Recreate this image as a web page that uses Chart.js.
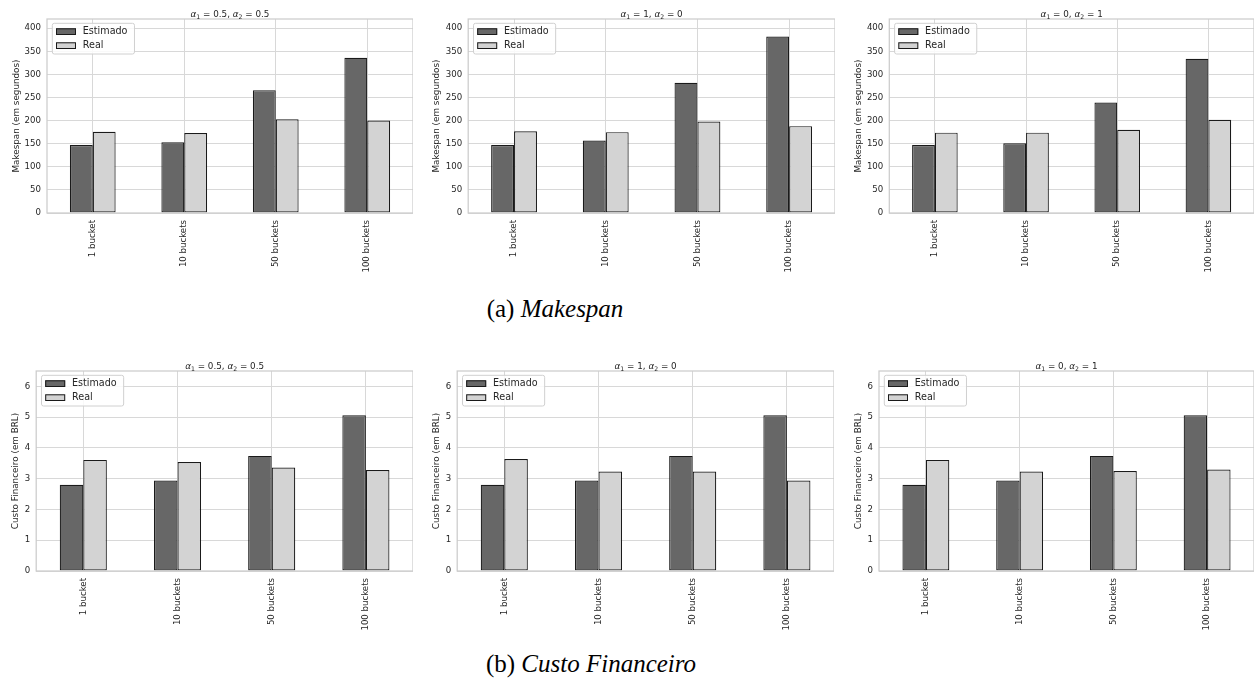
<!DOCTYPE html>
<html><head><meta charset="utf-8">
<script src="https://cdn.jsdelivr.net/npm/chart.js@4.4.0/dist/chart.umd.min.js"></script>
<style>
html,body{margin:0;padding:0;background:#fff;width:1255px;height:683px;overflow:hidden;position:relative;}
canvas{position:absolute;}
.cap{position:absolute;font-family:"Liberation Serif",serif;font-size:25px;line-height:25px;color:#000;white-space:nowrap;text-align:center;width:400px;}
.cap i{font-style:italic;}
</style></head><body>
<div class="cap" style="left:355px;top:296px;">(a) <i>Makespan</i></div>
<div class="cap" style="left:391px;top:651px;">(b) <i>Custo Financeiro</i></div>
<script>
// ---- data ----
const categories = ['1 bucket', '10 buckets', '50 buckets', '100 buckets'];
const seriesLabels = ['Estimado', 'Real'];
const alpha1Values = ['0.5', '1', '0'];
const alpha2Values = ['0.5', '0', '1'];

const makespanEst_05_05 = [147, 153, 266, 336];
const makespanReal_05_05 = [176, 173, 203, 200];
const makespanEst_1_0 = [147, 157, 282, 382];
const makespanReal_1_0 = [177, 175, 198, 188];
const makespanEst_0_1 = [147, 151, 239, 334];
const makespanReal_0_1 = [174, 174, 180, 202];

const custoEst_05_05 = [2.80, 2.94, 3.74, 5.06];
const custoReal_05_05 = [3.61, 3.54, 3.36, 3.28];
const custoEst_1_0 = [2.80, 2.94, 3.74, 5.06];
const custoReal_1_0 = [3.64, 3.23, 3.23, 2.94];
const custoEst_0_1 = [2.80, 2.94, 3.74, 5.06];
const custoReal_0_1 = [3.61, 3.23, 3.25, 3.30];

const makespanAxisMax = 420, makespanStep = 50;
const custoAxisMax = 6.5, custoStep = 1;
const makespanYLabel = 'Makespan (em segundos)';
const custoYLabel = 'Custo Financeiro (em BRL)';

// ---- style ----
const EST_COLOR = '#676767';
const REAL_COLOR = '#d3d3d3';
const EDGE = '#1a1a1a';
const GRID = '#d8d8d8';
const FRAME = '#cccccc';
const TXT = '#262626';
const FONT = '"DejaVu Sans", sans-serif';

const panels = [
  {est: makespanEst_05_05, real: makespanReal_05_05, ai: 0, yLabel: makespanYLabel, ymax: makespanAxisMax, step: makespanStep,
   L: 47, R: 413, T: 19, B: 213, cl: 0, ct: 0, ch: 290, yLabelX: 16.7},
  {est: makespanEst_1_0, real: makespanReal_1_0, ai: 1, yLabel: makespanYLabel, ymax: makespanAxisMax, step: makespanStep,
   L: 468.2, R: 834.9, T: 19, B: 213, cl: 421, ct: 0, ch: 290, yLabelX: 436.7},
  {est: makespanEst_0_1, real: makespanReal_0_1, ai: 2, yLabel: makespanYLabel, ymax: makespanAxisMax, step: makespanStep,
   L: 889.3, R: 1254, T: 19, B: 213, cl: 842, ct: 0, ch: 290, yLabelX: 859},
  {est: custoEst_05_05, real: custoReal_05_05, ai: 0, yLabel: custoYLabel, ymax: custoAxisMax, step: custoStep,
   L: 36.2, R: 413, T: 371, B: 571, cl: 0, ct: 350, ch: 295, yLabelX: 16},
  {est: custoEst_1_0, real: custoReal_1_0, ai: 1, yLabel: custoYLabel, ymax: custoAxisMax, step: custoStep,
   L: 457.2, R: 833.7, T: 371, B: 571, cl: 415, ct: 350, ch: 295, yLabelX: 437},
  {est: custoEst_0_1, real: custoReal_0_1, ai: 2, yLabel: custoYLabel, ymax: custoAxisMax, step: custoStep,
   L: 879, R: 1254, T: 371, B: 571, cl: 836, ct: 350, ch: 295, yLabelX: 859}
];

function drawPanelTitle(ctx, cx, cy, a1, a2) {
  const fs = 8.8;
  const reg = fs + 'px ' + FONT;
  const ital = 'italic ' + fs + 'px ' + FONT;
  const sub = (fs * 0.7) + 'px ' + FONT;
  const segs = [
    {t: 'α', f: ital, dy: 0}, {t: '1', f: sub, dy: fs * 0.22}, {t: ' = ' + a1 + ', ', f: reg, dy: 0},
    {t: 'α', f: ital, dy: 0}, {t: '2', f: sub, dy: fs * 0.22}, {t: ' = ' + a2, f: reg, dy: 0}
  ];
  let total = 0;
  segs.forEach(s => { ctx.font = s.f; s.w = ctx.measureText(s.t).width; total += s.w; });
  let x = cx - total / 2;
  const base = cy + fs * 0.36;
  ctx.fillStyle = '#262626';
  ctx.textAlign = 'left';
  ctx.textBaseline = 'alphabetic';
  segs.forEach(s => { ctx.font = s.f; ctx.fillText(s.t, x, base + s.dy); x += s.w; });
}

const panelDecor = {
  id: 'panelDecor',
  afterDatasetsDraw(chart, args, opts) {
    const ctx = chart.ctx;
    const ca = chart.chartArea;
    ctx.save();
    // frame
    ctx.strokeStyle = FRAME;
    ctx.lineWidth = 1.25;
    ctx.strokeRect(ca.left, ca.top, ca.right - ca.left, ca.bottom - ca.top);
    // title
    drawPanelTitle(ctx, (ca.left + ca.right) / 2, ca.top - 5, alpha1Values[opts.ai], alpha2Values[opts.ai]);
    // legend inside axes
    const lx = ca.left + 5.3, ly = ca.top + 4.3;
    ctx.font = '9.6px ' + FONT;
    const dsets = chart.data.datasets;
    const tw = Math.max(...dsets.map(d => ctx.measureText(d.label).width));
    const w = 30.5 + tw + 7, h = 30.7, r = 2;
    ctx.beginPath();
    ctx.moveTo(lx + r, ly);
    ctx.lineTo(lx + w - r, ly); ctx.arcTo(lx + w, ly, lx + w, ly + r, r);
    ctx.lineTo(lx + w, ly + h - r); ctx.arcTo(lx + w, ly + h, lx + w - r, ly + h, r);
    ctx.lineTo(lx + r, ly + h); ctx.arcTo(lx, ly + h, lx, ly + h - r, r);
    ctx.lineTo(lx, ly + r); ctx.arcTo(lx, ly, lx + r, ly, r);
    ctx.closePath();
    ctx.fillStyle = 'rgba(255,255,255,0.85)';
    ctx.fill();
    ctx.strokeStyle = '#d0d0d0';
    ctx.lineWidth = 1;
    ctx.stroke();
    dsets.forEach((d, i) => {
      const sy = ly + 5 + i * 14;
      ctx.fillStyle = d.backgroundColor;
      ctx.fillRect(lx + 3.7, sy, 20, 6.7);
      ctx.strokeStyle = d.borderColor;
      ctx.lineWidth = 1;
      ctx.strokeRect(lx + 3.7 + 0.5, sy + 0.5, 19, 5.7);
      ctx.fillStyle = '#262626';
      ctx.textAlign = 'left';
      ctx.textBaseline = 'middle';
      ctx.fillText(d.label, lx + 30.5, sy + 3.6);
    });
    ctx.restore();
  }
};

panels.forEach(p => {
  const cv = document.createElement('canvas');
  const cw = Math.round(p.R - p.cl);
  cv.width = cw; cv.height = p.ch;
  cv.style.left = p.cl + 'px'; cv.style.top = p.ct + 'px';
  cv.style.width = cw + 'px'; cv.style.height = p.ch + 'px';
  document.body.appendChild(cv);
  const yTitleFont = 8.8;
  new Chart(cv, {
    type: 'bar',
    data: {
      labels: categories,
      datasets: [
        {label: seriesLabels[0], data: p.est, backgroundColor: EST_COLOR, borderColor: EDGE, borderWidth: 1.2,
         borderSkipped: false, categoryPercentage: 0.5, barPercentage: 1.0},
        {label: seriesLabels[1], data: p.real, backgroundColor: REAL_COLOR, borderColor: EDGE, borderWidth: 1.2,
         borderSkipped: false, categoryPercentage: 0.5, barPercentage: 1.0}
      ]
    },
    options: {
      responsive: false, animation: false, devicePixelRatio: 1,
      layout: {padding: {top: p.T - p.ct, left: 0, right: 0, bottom: 0}},
      plugins: {legend: {display: false}, title: {display: false}, tooltip: {enabled: false}, panelDecor: {ai: p.ai}},
      scales: {
        x: {
          offset: true,
          grid: {offset: false, color: GRID, lineWidth: 1, drawTicks: false},
          border: {display: false},
          ticks: {minRotation: 90, maxRotation: 90, padding: 7, autoSkip: false, color: TXT,
                  font: {family: FONT, size: 8.6}},
          afterFit(s) { s.height = p.ch - (p.B - p.ct); s.paddingLeft = 0; s.paddingRight = 0; }
        },
        y: {
          min: 0, max: p.ymax,
          grid: {color: GRID, lineWidth: 1, drawTicks: false},
          border: {display: false},
          ticks: {stepSize: p.step, includeBounds: false, padding: 6, color: TXT, font: {family: FONT, size: 8.6}},
          title: {display: true, text: p.yLabel, color: TXT, font: {family: FONT, size: yTitleFont, lineHeight: 1.2},
                  padding: {top: p.yLabelX - p.cl - yTitleFont * 0.6, bottom: 0}},
          afterFit(s) { s.width = p.L - p.cl; s.paddingTop = 0; s.paddingBottom = 0; }
        }
      }
    },
    plugins: [panelDecor]
  });
});
</script>
</body></html>
